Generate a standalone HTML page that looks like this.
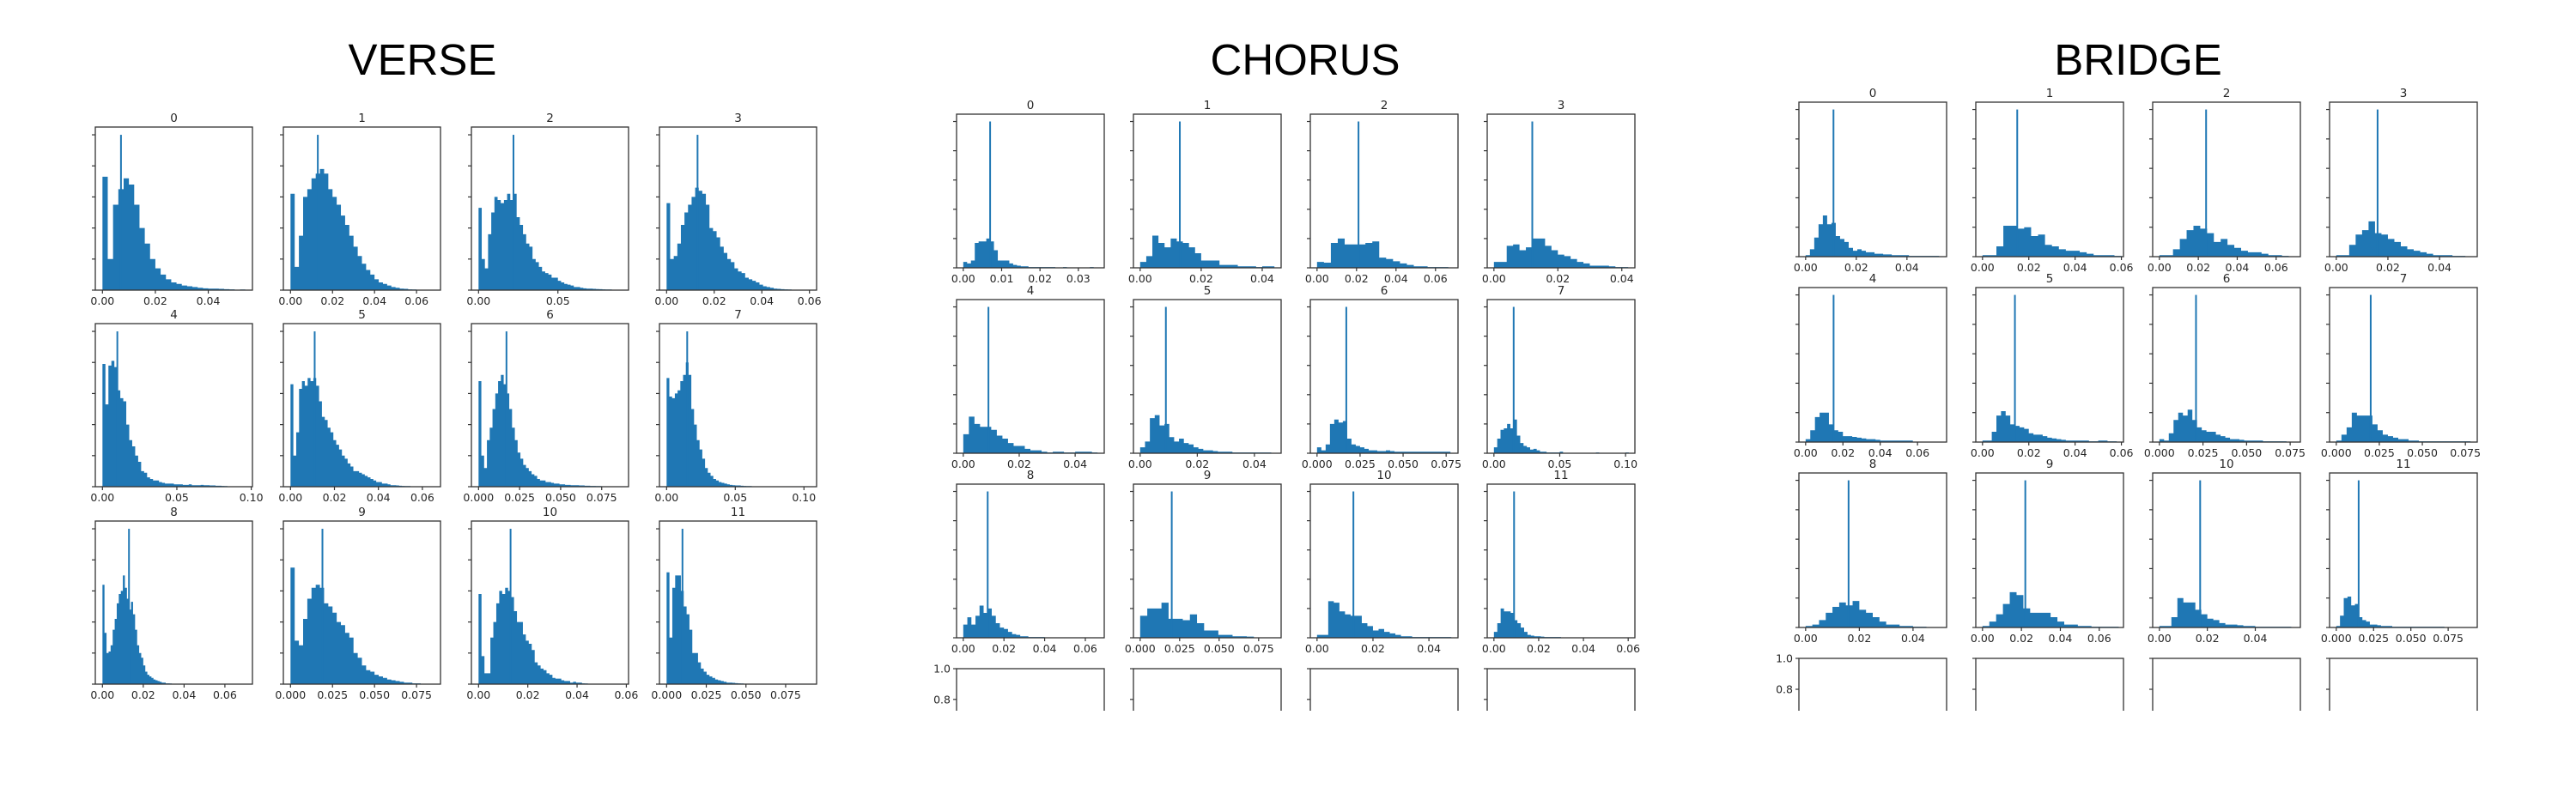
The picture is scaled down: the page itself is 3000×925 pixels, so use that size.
<!DOCTYPE html>
<html><head><meta charset="utf-8">
<style>
html,body{margin:0;padding:0;background:#fff;}
svg{display:block;}
text{font-family:"DejaVu Sans","Liberation Sans",sans-serif;fill:#262626;}
.big{font-family:"Liberation Sans",sans-serif;font-size:51px;fill:#000;}
</style></head>
<body>
<svg id="chart" width="3000" height="925" viewBox="0 0 3000 925" xmlns="http://www.w3.org/2000/svg">
<rect x="0" y="0" width="3000" height="925" fill="#fff"/>
<text class="big" x="492" y="87" text-anchor="middle">VERSE</text>
<text class="big" x="1520" y="87" text-anchor="middle">CHORUS</text>
<text class="big" x="2490" y="87" text-anchor="middle">BRIDGE</text>
<g id="plots"></g>
<rect x="0" y="828" width="3000" height="97" fill="#fff"/>
</svg>
<script>
// ---- data: per panel x-range max, tick values, bin width, spike position, bin heights (relative to spike) ----
const verseDmax = [.054,.068,.09,.06,.096,.065,.087,.104,.07,.085,.058,.09];
const verseTicks = [[0,.02,.04],[0,.02,.04,.06],[0,.05],[0,.02,.04,.06],[0,.05,.1],[0,.02,.04,.06],[0,.025,.05,.075],[0,.05,.1],[0,.02,.04,.06],[0,.025,.05,.075],[0,.02,.04,.06],[0,.025,.05,.075]];
const verseWidth = [.002,.002,.002,.0015,.002,.0013,.0017,.002,.001,.0025,.0012,.0018];
const verseSpike = [.007,.013,.022,.013,.01,.011,.017,.015,.013,.019,.013,.01];
const verseBins = [
[0.73,0.2,0.55,0.65,0.72,0.68,0.55,0.4,0.3,0.2,0.14,0.1,0.07,0.05,0.04,0.03,0.025,0.02,0.015,0.012,0.01,0.01,0.008,0.006,0.005,0.003,0.004],
[0.62,0.15,0.35,0.6,0.65,0.72,0.75,0.78,0.75,0.65,0.6,0.55,0.48,0.42,0.35,0.28,0.22,0.17,0.13,0.1,0.07,0.05,0.04,0.03,0.02,0.015,0.01,0.008,0.005,0.004,0.003,0.003,0.002,0.002],
[0.53,0.2,0.14,0.36,0.5,0.6,0.58,0.56,0.58,0.62,0.58,0.62,0.47,0.42,0.36,0.3,0.28,0.2,0.18,0.15,0.12,0.11,0.1,0.08,0.08,0.06,0.05,0.04,0.035,0.03,0.02,0.02,0.015,0.012,0.01,0.01,0.008,0.007,0.006,0.005,0.004,0.004,0.003,0.003,0.002],
[0.56,0.2,0.22,0.3,0.42,0.5,0.55,0.6,0.66,0.64,0.62,0.55,0.4,0.38,0.34,0.28,0.24,0.2,0.18,0.14,0.12,0.11,0.08,0.07,0.06,0.05,0.035,0.025,0.02,0.015,0.01,0.008,0.006,0.005,0.004,0.003,0.003,0.002,0.002,0.002],
[0.79,0.53,0.78,0.81,0.77,0.62,0.57,0.55,0.4,0.3,0.26,0.2,0.16,0.1,0.09,0.06,0.05,0.04,0.04,0.03,0.025,0.02,0.02,0.02,0.015,0.015,0.015,0.012,0.012,0.015,0.01,0.01,0.01,0.012,0.01,0.01,0.008,0.008,0.006,0.006,0.005,0.004,0.003,0.003,0.002,0.002,0.002,0.003],
[0.66,0.2,0.35,0.63,0.68,0.65,0.7,0.68,0.7,0.65,0.55,0.45,0.43,0.38,0.35,0.3,0.27,0.24,0.2,0.18,0.15,0.13,0.1,0.1,0.09,0.08,0.07,0.06,0.05,0.04,0.03,0.03,0.02,0.02,0.015,0.01,0.01,0.008,0.006,0.005,0.004,0.004,0.003,0.003,0.003,0.002,0.002,0.002,0.002,0.002],
[0.68,0.2,0.12,0.3,0.38,0.5,0.6,0.68,0.72,0.66,0.6,0.5,0.38,0.3,0.22,0.18,0.14,0.12,0.1,0.08,0.07,0.05,0.04,0.04,0.03,0.03,0.025,0.02,0.02,0.015,0.015,0.012,0.012,0.01,0.01,0.01,0.008,0.008,0.006,0.006,0.005,0.005,0.004,0.004,0.003,0.003,0.003,0.002,0.002,0.002,0.002],
[0.7,0.58,0.57,0.6,0.62,0.68,0.72,0.8,0.72,0.5,0.4,0.3,0.24,0.18,0.12,0.09,0.07,0.05,0.04,0.03,0.025,0.02,0.015,0.012,0.01,0.008,0.008,0.006,0.005,0.004,0.004,0.003,0.003,0.002,0.002,0.002,0.002,0.002,0.002,0.002,0.001,0.001,0.001,0.001,0.001,0.001,0.001,0.001,0.001,0.001,0.001,0.002],
[0.64,0.33,0.2,0.21,0.25,0.35,0.42,0.52,0.58,0.6,0.7,0.62,0.55,0.48,0.53,0.45,0.35,0.25,0.2,0.17,0.12,0.08,0.06,0.05,0.04,0.03,0.025,0.02,0.015,0.01,0.01,0.005,0.005,0.004,0.003,0.002,0.002,0.002,0.001,0.001,0.001,0.001,0.002],
[0.75,0.28,0.25,0.42,0.55,0.62,0.64,0.62,0.52,0.5,0.46,0.4,0.38,0.33,0.3,0.2,0.17,0.12,0.09,0.08,0.06,0.05,0.04,0.03,0.025,0.02,0.015,0.01,0.01,0.005,0.005,0.003,0.002,0.002],
[0.58,0.18,0.07,0.07,0.3,0.4,0.52,0.6,0.58,0.62,0.6,0.56,0.47,0.4,0.4,0.32,0.28,0.26,0.22,0.14,0.12,0.1,0.09,0.07,0.06,0.04,0.035,0.035,0.025,0.02,0.02,0.01,0.015,0.01,0.01,0.005,0.004,0.003,0.003,0.002],
[0.72,0.3,0.62,0.7,0.7,0.6,0.5,0.45,0.35,0.2,0.2,0.14,0.1,0.08,0.06,0.05,0.04,0.03,0.025,0.02,0.015,0.01,0.01,0.008,0.006,0.005,0.004,0.003,0.003,0.002,0.002,0.002,0.002,0.001,0.001]
];
const chorusDmax = [.035,.044,.068,.042,.048,.047,.078,.102,.066,.085,.048,.06];
const chorusTicks = [[0,.01,.02,.03],[0,.02,.04],[0,.02,.04,.06],[0,.02,.04],[0,.02,.04],[0,.02,.04],[0,.025,.05,.075],[0,.05,.1],[0,.02,.04,.06],[0,.025,.05,.075],[0,.02,.04],[0,.02,.04,.06]];
const chorusWidth = [.001,.002,.0035,.002,.002,.0017,.0025,.0025,.002,.0045,.002,.0015];
const chorusSpike = [.007,.013,.021,.012,.009,.009,.017,.015,.012,.02,.013,.009];
const chorusBins = [
[0.04,0.03,0.05,0.17,0.18,0.18,0.2,0.18,0.12,0.05,0.05,0.05,0.03,0.02,0.015,0.01,0.01,0.005,0.005,0.005,0.005,0.005,0.005,0.005,0,0,0.005,0,0,0,0,0,0,0.005],
[0.04,0.08,0.22,0.17,0.14,0.2,0.18,0.17,0.14,0.1,0.05,0.05,0.05,0.02,0.02,0.02,0.01,0.01,0.01,0.005,0.01,0.01],
[0.04,0.035,0.17,0.2,0.16,0.16,0.16,0.17,0.18,0.07,0.06,0.045,0.03,0.02,0.01,0.01,0.005,0.005,0.005,0.003],
[0.04,0.04,0.15,0.16,0.12,0.14,0.2,0.2,0.15,0.12,0.09,0.08,0.06,0.04,0.03,0.015,0.015,0.015,0.01,0.005,0.005],
[0.13,0.25,0.2,0.18,0.18,0.16,0.12,0.1,0.07,0.05,0.05,0.03,0.02,0.02,0.01,0.005,0.01,0.01,0.005,0.005,0.01,0.01,0.01,0.005],
[0.04,0.08,0.24,0.26,0.19,0.2,0.11,0.08,0.1,0.07,0.06,0.04,0.03,0.02,0.02,0.015,0.01,0.01,0.01,0.005,0.005,0.005,0.005,0.005,0.005,0.005,0.005,0.003],
[0.04,0.02,0.06,0.2,0.23,0.21,0.22,0.1,0.06,0.05,0.04,0.03,0.02,0.02,0.015,0.015,0.02,0.015,0.01,0.01,0.01,0.01,0.01,0.01,0.01,0.01,0.01,0.01,0.01,0.01,0.01],
[0.04,0.1,0.16,0.17,0.2,0.17,0.23,0.12,0.07,0.05,0.04,0.025,0.03,0.02,0.01,0.01,0.005,0.005,0.005,0.005,0.01,0,0,0,0,0,0,0,0,0,0,0.005,0,0,0,0,0,0,0,0,0.005],
[0.09,0.14,0.09,0.15,0.22,0.17,0.2,0.15,0.1,0.07,0.06,0.04,0.025,0.02,0.01,0.01,0.005,0.005,0.005,0.005],
[0.15,0.2,0.2,0.24,0.13,0.13,0.12,0.16,0.1,0.05,0.05,0.02,0.02,0.01,0.01,0.008],
[0.02,0.02,0.25,0.24,0.18,0.16,0.15,0.15,0.1,0.08,0.05,0.06,0.04,0.03,0.02,0.01,0.01,0.005,0.005,0.005,0.005,0.005,0.005,0.005],
[0.04,0.1,0.2,0.18,0.18,0.17,0.12,0.1,0.07,0.04,0.02,0.015,0.01,0.01,0.008,0.005,0.005,0.005,0.005,0.005]
];
const bridgeDmax = [.053,.058,.069,.052,.072,.058,.077,.078,.05,.069,.056,.09];
const bridgeTicks = [[0,.02,.04],[0,.02,.04,.06],[0,.02,.04,.06],[0,.02,.04],[0,.02,.04,.06],[0,.02,.04,.06],[0,.025,.05,.075],[0,.025,.05,.075],[0,.02,.04],[0,.02,.04,.06],[0,.02,.04],[0,.025,.05,.075]];
const bridgeWidth = [.0017,.003,.0035,.0025,.0025,.002,.0027,.003,.0025,.0035,.0025,.0025];
const bridgeSpike = [.011,.015,.024,.016,.015,.014,.021,.02,.016,.022,.017,.015];
const bridgeBins = [
[0.01,0.05,0.13,0.22,0.28,0.22,0.23,0.14,0.12,0.1,0.06,0.04,0.05,0.04,0.03,0.03,0.02,0.02,0.015,0.015,0.01,0.01,0.01,0.01,0.005,0.005,0.005,0.005,0.005,0.005,0.005],
[0.01,0.01,0.07,0.21,0.21,0.19,0.2,0.14,0.15,0.08,0.07,0.05,0.04,0.04,0.03,0.02,0.01,0.01,0.01,0.005],
[0.01,0.01,0.05,0.12,0.18,0.21,0.19,0.16,0.1,0.12,0.08,0.06,0.04,0.03,0.03,0.02,0.01,0.01,0.005],
[0.01,0.01,0.08,0.15,0.18,0.24,0.16,0.15,0.12,0.1,0.07,0.05,0.04,0.03,0.02,0.01,0.01,0.01,0.005,0.005],
[0.02,0.08,0.17,0.2,0.2,0.12,0.08,0.07,0.04,0.04,0.035,0.03,0.025,0.02,0.02,0.015,0.01,0.01,0.01,0.01,0.01,0.01,0.01],
[0.01,0.01,0.07,0.18,0.21,0.18,0.12,0.11,0.1,0.09,0.06,0.05,0.05,0.04,0.03,0.025,0.02,0.015,0.01,0.01,0.01,0.01,0.01,0.005,0.005,0.01,0.01,0.005,0.005],
[0.02,0.01,0.06,0.15,0.2,0.18,0.22,0.15,0.1,0.08,0.07,0.07,0.05,0.04,0.03,0.02,0.02,0.015,0.01,0.01,0.01,0.01,0.005,0.005,0.005,0.005,0.005],
[0.01,0.05,0.1,0.2,0.18,0.18,0.18,0.12,0.08,0.05,0.04,0.03,0.02,0.02,0.01,0.01,0.005,0.005,0.005,0.005,0.005,0.005,0.005,0.005,0.005,0.005],
[0.01,0.02,0.05,0.1,0.14,0.17,0.15,0.18,0.12,0.1,0.07,0.04,0.02,0.02,0.01,0.01,0.005,0.005],
[0.01,0.04,0.09,0.16,0.24,0.22,0.13,0.1,0.1,0.1,0.07,0.04,0.02,0.02,0.01,0.01,0.005,0.005,0.005,0.005],
[0.01,0.01,0.07,0.2,0.17,0.17,0.12,0.09,0.06,0.05,0.03,0.02,0.02,0.015,0.01,0.01,0.005,0.005,0.005,0.005,0.005,0.005],
[0.01,0.08,0.2,0.21,0.15,0.16,0.07,0.05,0.04,0.02,0.02,0.015,0.01,0.01,0.01,0.005,0.005,0.005,0.005,0.005,0.005,0.005,0.005,0.005,0.005,0.005,0.005,0.005,0.005]
];
const emptyTicks = [1.0,0.8,0.6,0.4,0.2,0.0];

const NS = 'http://www.w3.org/2000/svg';
const root = document.getElementById('plots');
function el(tag, attrs, parent){
  const e = document.createElementNS(NS, tag);
  for (const k in attrs) e.setAttribute(k, attrs[k]);
  (parent||root).appendChild(e);
  return e;
}
function fmt(v, ticks){
  const step = ticks[1]-ticks[0];
  const d = Math.abs(step-0.025)<1e-9 ? 3 : 2;
  return v.toFixed(d);
}
function drawGroup(key, geom, dmaxA, ticksA, widthA, spikeA, binsA){
  for (let i=0;i<12;i++){
    const r=Math.floor(i/4), c=i%4;
    const x0=geom.lefts[c], y0=geom.tops[r], w=geom.w, h=geom.h;
    const g = el('g',{});
    
    
    const dmax=dmaxA[i], span=dmax*1.1, xmin=-dmax*0.05;
    const xs = v => x0 + (v - xmin)/span*w;
    const ys = v => y0 + h - v/1.05*h;
    const bins = binsA[i], bw = widthA[i];
    // histogram bars
    let d='';
    for (let b=0;b<bins.length;b++){
      if (bins[b]<=0) continue;
      const xa=xs(b*bw), xb=xs((b+1)*bw), yt=ys(bins[b]);
      d += 'M'+xa.toFixed(2)+' '+(y0+h)+'V'+yt.toFixed(2)+'H'+xb.toFixed(2)+'V'+(y0+h)+'Z';
    }
    const bars = el('path',{d:d, fill:'#1f77b4'}, g);
    
    
    const sp = el('rect',{x:(xs(spikeA[i])-1).toFixed(2), y:ys(1).toFixed(2), width:2, height:(y0+h-ys(1)).toFixed(2), fill:'#1f77b4'}, g);
    
    
    // frame
    const fr = el('rect',{x:x0, y:y0, width:w, height:h, fill:'none', stroke:'#333', 'stroke-width':1.3}, g);
    
    
    // y ticks
    for (let k=0;k<=5;k++){
      const yy=ys(k/5);
      el('line',{x1:x0-4,x2:x0,y1:yy,y2:yy,stroke:'#333','stroke-width':1.2}, g);
    }
    // x ticks
    ticksA[i].forEach(t=>{
      const xx=xs(t);
      el('line',{x1:xx,x2:xx,y1:y0+h,y2:y0+h+4,stroke:'#333','stroke-width':1.2}, g);
      const tl = el('text',{x:xx, y:y0+h+17, 'text-anchor':'middle', 'font-size':12.5}, g);
      tl.textContent = fmt(t, ticksA[i]);
      
      
    });
    const tt = el('text',{x:x0+w/2, y:y0-6, 'text-anchor':'middle', 'font-size':13.5}, g);
    tt.textContent = String(i);
    
    
  }
  if (geom.extraTop){
    for (let c=0;c<4;c++){
      const x0=geom.lefts[c], y0=geom.extraTop, w=geom.w, h=geom.h;
      const g = el('g',{});
      
      
      el('rect',{x:x0,y:y0,width:w,height:h,fill:'none',stroke:'#333','stroke-width':1.3}, g);
      emptyTicks.forEach(v=>{
        const yy=y0+(1-v)*h;
        el('line',{x1:x0-4,x2:x0,y1:yy,y2:yy,stroke:'#333','stroke-width':1.2}, g);
        if (c===0){
          const t=el('text',{x:x0-7,y:yy+4.5,'text-anchor':'end','font-size':12.5}, g);
          t.textContent=v.toFixed(1);
          
          
        }
      });
    }
  }
}
drawGroup('verse',{lefts:[111,330,549,768],tops:[148,377,607],w:183,h:190},verseDmax,verseTicks,verseWidth,verseSpike,verseBins);
drawGroup('chorus',{lefts:[1114,1320,1526,1732],tops:[133,349,564],w:172,h:179,extraTop:779},chorusDmax,chorusTicks,chorusWidth,chorusSpike,chorusBins);
drawGroup('bridge',{lefts:[2095,2301,2507,2713],tops:[119,335,551],w:172,h:180,extraTop:767},bridgeDmax,bridgeTicks,bridgeWidth,bridgeSpike,bridgeBins);
</script>
</body></html>
